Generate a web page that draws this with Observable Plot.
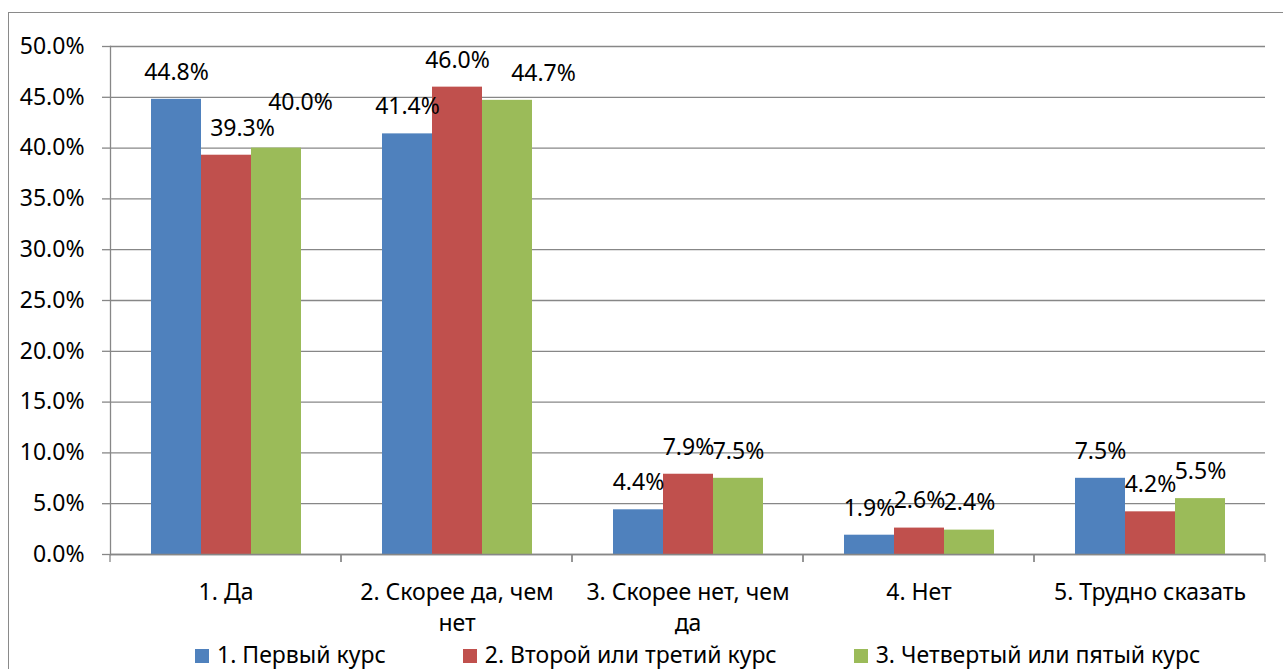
<!DOCTYPE html>
<html><head><meta charset="utf-8">
<script src="https://cdn.jsdelivr.net/npm/d3@7"></script>
<script src="https://cdn.jsdelivr.net/npm/@observablehq/plot@0.6"></script>
<style>
body{margin:0;width:1283px;height:669px;overflow:hidden;position:relative;background:#fff;font-family:"Noto Sans",sans-serif;color:#000;}
#frame{position:absolute;left:8px;top:12px;width:1400px;height:800px;border:1px solid #8a8a8a;}
#chart{position:absolute;left:0;top:0;}
#legend{position:absolute;left:195px;top:639px;display:flex;gap:77px;font-size:23px;line-height:30px;white-space:nowrap;}
.item{display:flex;align-items:center;}
.sw{width:14px;height:14px;margin-right:8px;margin-top:4px;}
</style></head><body>
<div id="frame"></div><div id="chart"></div><div id="legend"></div>
<script>
const categories = ["1. Да", "2. Скорее да, чем нет", "3. Скорее нет, чем да", "4. Нет", "5. Трудно сказать"];
const categoryLabels = ["1. Да", "2. Скорее да, чем\nнет", "3. Скорее нет, чем\nда", "4. Нет", "5. Трудно сказать"];
const seriesNames = ["1. Первый курс", "2. Второй или третий курс", "3. Четвертый или пятый курс"];
const seriesColors = ["#4F81BD", "#C0504D", "#9BBB59"];
const firstCourse = [0.448, 0.414, 0.044, 0.019, 0.075];
const secondThirdCourse = [0.393, 0.460, 0.079, 0.026, 0.042];
const fourthFifthCourse = [0.400, 0.447, 0.075, 0.024, 0.055];
const yTicks = [0, 0.05, 0.10, 0.15, 0.20, 0.25, 0.30, 0.35, 0.40, 0.45, 0.50];

// data labels that were moved by hand in the original chart (offsets in px)
const labelNudges = [
  {category: categories[0], series: seriesNames[1], dx: 16, dy: 0},
  {category: categories[0], series: seriesNames[2], dx: 24, dy: -18},
  {category: categories[1], series: seriesNames[2], dx: 36, dy: 0}
];

const seriesValues = [firstCourse, secondThirdCourse, fourthFifthCourse];
const rows = [];
categories.forEach((c, i) => seriesNames.forEach((s, j) => rows.push({category: c, series: s, value: seriesValues[j][i]})));

const gray = "#878787";
const fmt = d3.format(".1%");
const labelDy = -27;
const isNudged = d => labelNudges.some(n => n.category === d.category && n.series === d.series);

function boundaryTicks(index, scales, values, dimensions) {
  const [a, b] = scales.x.range();
  const y0 = scales.y(0);
  const g = d3.create("svg:g").attr("stroke", gray).attr("stroke-width", 1.3);
  for (const xx of [a, b]) g.append("line").attr("x1", xx).attr("x2", xx).attr("y1", y0).attr("y2", y0 + 8);
  return g.node();
}

const labelOpts = {fx: "category", x: "series", y: "value", text: d => fmt(d.value), fontSize: 23, fill: "#000"};

const chart = Plot.plot({
  width: 1283,
  height: 669,
  marginTop: 46,
  marginBottom: 115,
  marginLeft: 110,
  marginRight: 18,
  style: {fontFamily: "'Noto Sans', sans-serif", fontSize: "23px", color: "#000", background: "transparent"},
  fx: {domain: categories, padding: 0},
  x: {domain: seriesNames, paddingInner: 0, paddingOuter: 0.765, axis: null},
  y: {domain: [0, 0.5]},
  color: {domain: seriesNames, range: seriesColors},
  marks: [
    Plot.gridY(yTicks, {stroke: gray, strokeOpacity: 1, strokeWidth: 1.3}),
    Plot.barY(rows, {fx: "category", x: "series", y: "value", fill: "series"}),
    Plot.ruleY([0], {stroke: gray, strokeWidth: 1.3}),
    Plot.frame({anchor: "left", facetAnchor: "left", stroke: gray, strokeWidth: 1.3}),
    boundaryTicks,
    Plot.text(rows.filter(d => !isNudged(d)), {...labelOpts, dy: labelDy}),
    ...labelNudges.map(n => Plot.text(rows.filter(d => d.category === n.category && d.series === n.series),
      {...labelOpts, dx: n.dx, dy: labelDy + n.dy})),
    Plot.axisY(yTicks, {tickSize: 8, tickPadding: 18, tickFormat: fmt, stroke: gray, strokeWidth: 1.3, fill: "#000", label: null, fontSize: 23}),
    Plot.axisFx({anchor: "bottom", tickSize: 0, tickPadding: 23, label: null, fontSize: 23, lineHeight: 1.36, fill: "#000",
      tickFormat: d => categoryLabels[categories.indexOf(d)]})
  ]
});
document.getElementById("chart").append(chart);

const legend = d3.select("#legend");
seriesNames.forEach((s, i) => {
  const item = legend.append("div").attr("class", "item");
  item.append("div").attr("class", "sw").style("background", seriesColors[i]);
  item.append("span").text(s);
});
</script>
</body></html>
